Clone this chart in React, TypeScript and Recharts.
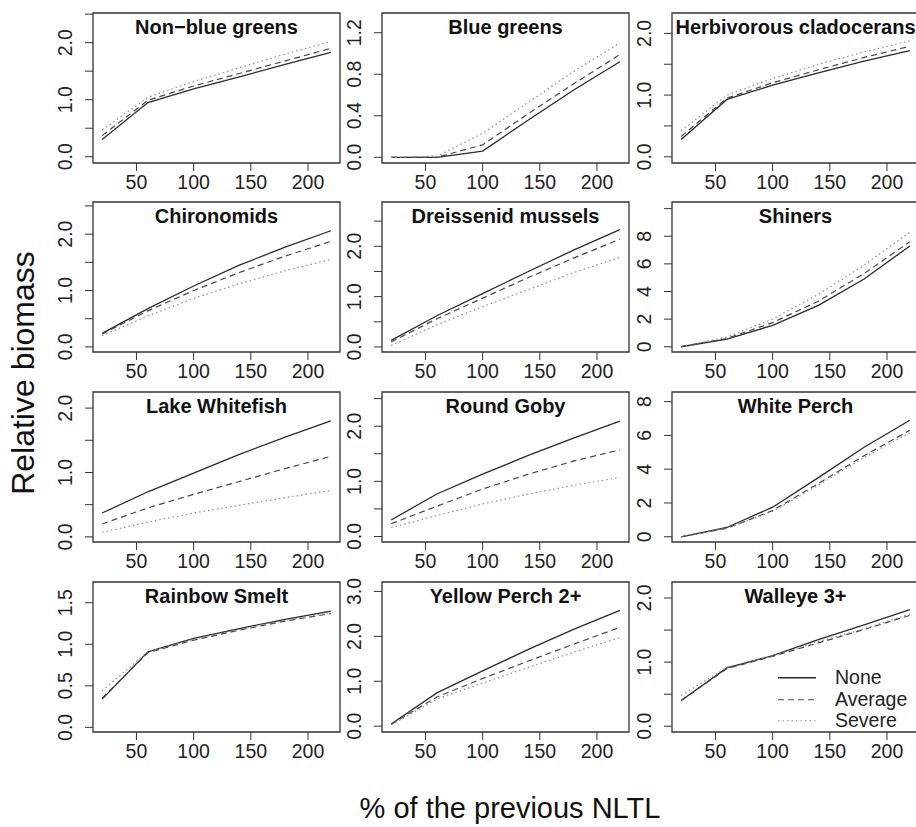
import React from "react";
import { LineChart, Line, XAxis, YAxis, ReferenceArea, Legend } from "recharts";

// nutrient load (% of the previous NLTL)
const xValues = [20, 60, 100, 140, 180, 220];
const xTicks = [50, 100, 150, 200];

const panelTitles = [
  "Non\u2212blue greens", "Blue greens", "Herbivorous cladocerans",
  "Chironomids", "Dreissenid mussels", "Shiners",
  "Lake Whitefish", "Round Goby", "White Perch",
  "Rainbow Smelt", "Yellow Perch 2+", "Walleye 3+",
];

const seriesNames = ["None", "Average", "Severe"];

const noneSeries = [
  [0.30, 0.95, 1.19, 1.40, 1.62, 1.83],
  [0.00, 0.00, 0.06, 0.36, 0.65, 0.92],
  [0.28, 0.93, 1.16, 1.36, 1.55, 1.72],
  [0.24, 0.68, 1.08, 1.45, 1.77, 2.06],
  [0.13, 0.62, 1.06, 1.50, 1.93, 2.33],
  [0.00, 0.55, 1.55, 3.00, 4.90, 7.30],
  [0.37, 0.70, 0.99, 1.28, 1.55, 1.80],
  [0.30, 0.77, 1.13, 1.47, 1.79, 2.09],
  [0.00, 0.55, 1.75, 3.50, 5.30, 6.90],
  [0.34, 0.91, 1.07, 1.19, 1.30, 1.40],
  [0.05, 0.74, 1.23, 1.71, 2.16, 2.58],
  [0.40, 0.91, 1.10, 1.35, 1.58, 1.82],
];

const averageSeries = [
  [0.37, 0.99, 1.24, 1.46, 1.68, 1.90],
  [0.00, 0.00, 0.12, 0.42, 0.71, 0.99],
  [0.33, 0.95, 1.20, 1.41, 1.61, 1.79],
  [0.23, 0.64, 1.00, 1.32, 1.61, 1.87],
  [0.10, 0.56, 0.97, 1.38, 1.77, 2.14],
  [0.02, 0.60, 1.75, 3.30, 5.30, 7.60],
  [0.20, 0.45, 0.66, 0.86, 1.06, 1.25],
  [0.23, 0.55, 0.86, 1.13, 1.37, 1.57],
  [0.00, 0.50, 1.55, 3.15, 4.80, 6.30],
  [0.35, 0.90, 1.05, 1.17, 1.28, 1.37],
  [0.04, 0.65, 1.06, 1.45, 1.83, 2.20],
  [0.40, 0.90, 1.09, 1.30, 1.51, 1.73],
];

const severeSeries = [
  [0.47, 1.04, 1.32, 1.56, 1.80, 2.02],
  [0.00, 0.01, 0.23, 0.53, 0.83, 1.10],
  [0.42, 1.00, 1.27, 1.50, 1.70, 1.88],
  [0.20, 0.55, 0.86, 1.12, 1.35, 1.55],
  [0.03, 0.44, 0.80, 1.14, 1.48, 1.78],
  [0.00, 0.70, 2.00, 3.80, 5.90, 8.30],
  [0.07, 0.23, 0.37, 0.49, 0.61, 0.72],
  [0.16, 0.38, 0.59, 0.77, 0.93, 1.07],
  [0.00, 0.50, 1.50, 3.05, 4.70, 6.15],
  [0.44, 0.91, 1.06, 1.18, 1.29, 1.38],
  [0.03, 0.60, 0.96, 1.31, 1.65, 1.97],
  [0.48, 0.92, 1.10, 1.32, 1.52, 1.75],
];

const yDomains = [
  [-0.11, 2.52], [-0.055, 1.39], [-0.10, 2.33],
  [-0.09, 2.57], [-0.10, 2.88], [-0.38, 10.48],
  [-0.08, 2.25], [-0.10, 2.62], [-0.31, 8.57],
  [-0.056, 1.75], [-0.13, 3.21], [-0.09, 2.25],
];

const yTicks = [
  [0, 0.5, 1, 1.5, 2, 2.5], [0, 0.2, 0.4, 0.6, 0.8, 1.0, 1.2], [0, 0.5, 1, 1.5, 2],
  [0, 0.5, 1, 1.5, 2, 2.5], [0, 0.5, 1, 1.5, 2, 2.5], [0, 2, 4, 6, 8, 10],
  [0, 0.5, 1, 1.5, 2], [0, 0.5, 1, 1.5, 2, 2.5], [0, 2, 4, 6, 8],
  [0, 0.5, 1, 1.5], [0, 0.5, 1, 1.5, 2, 2.5, 3], [0, 0.5, 1, 1.5, 2],
];

// ticks that carry a printed label (R drops the crowded ones)
const yLabelled = [
  [0, 1, 2], [0, 0.4, 0.8, 1.2], [0, 1, 2],
  [0, 1, 2], [0, 1, 2], [0, 2, 4, 6, 8],
  [0, 1, 2], [0, 1, 2], [0, 2, 4, 6, 8],
  [0, 0.5, 1, 1.5], [0, 1, 2, 3], [0, 1, 2],
];
const yDecimals = [1, 1, 1, 1, 1, 0, 1, 1, 0, 1, 1, 1];

const COL_LEFT = [93, 382, 672];
const ROW_TOP = [13, 202, 392, 582];
const BOX_W = 247;
const BOX_H = 150;
const Y_AXIS_W = 45;
const X_AXIS_H = 35;
const PAD = 5;
const FONT = '"Liberation Sans", Arial, Helvetica, sans-serif';
const TICK_SIZE = 19.5;

const lineStyles = [
  { key: "none", stroke: "#2a2a2a", width: 1.3, dash: undefined },
  { key: "average", stroke: "#474747", width: 1.2, dash: "6 4" },
  { key: "severe", stroke: "#8c8c8c", width: 1.2, dash: "1.5 3" },
];

function YTick(props: any) {
  const { x, y, payload, labelled, decimals } = props;
  const v = payload.value;
  if (!labelled.some((l: number) => Math.abs(l - v) < 1e-9)) return <g />;
  const bx = x - 11;
  return (
    <text x={bx} y={y} transform={`rotate(-90 ${bx} ${y})`} textAnchor="middle"
      fontSize={TICK_SIZE} fill="#222" fontFamily={FONT}>
      {Number(v).toFixed(decimals)}
    </text>
  );
}

function LegendBox() {
  return (
    <div style={{ fontFamily: FONT, fontSize: TICK_SIZE, color: "#222" }}>
      {seriesNames.map((name, i) => (
        <div key={name} style={{ display: "flex", alignItems: "center", height: 21.5 }}>
          <svg width={38} height={21.5}>
            <line x1={0} x2={38} y1={10.75} y2={10.75} stroke={lineStyles[i].stroke}
              strokeWidth={lineStyles[i].width} strokeDasharray={lineStyles[i].dash} />
          </svg>
          <span style={{ marginLeft: 19, lineHeight: "21.5px" }}>{name}</span>
        </div>
      ))}
    </div>
  );
}

function Panel({ p }: { p: number }) {
  const col = p % 3;
  const row = Math.floor(p / 3);
  const left = COL_LEFT[col];
  const top = ROW_TOP[row];
  const data = xValues.map((x, i) => ({
    x,
    none: noneSeries[p][i],
    average: averageSeries[p][i],
    severe: severeSeries[p][i],
  }));
  const dom = yDomains[p];
  return (
    <>
      <div style={{ position: "absolute", left: left - Y_AXIS_W, top: top - PAD }}>
        <LineChart width={Y_AXIS_W + BOX_W + PAD} height={PAD + BOX_H + X_AXIS_H} data={data}
          margin={{ top: PAD, right: PAD, bottom: 0, left: 0 }}>
          <XAxis dataKey="x" type="number" domain={[12, 228]} allowDataOverflow ticks={xTicks}
            axisLine={false} tickSize={8} tickMargin={4} height={X_AXIS_H}
            tickLine={{ stroke: "#333" }}
            tick={{ fontSize: TICK_SIZE, fill: "#222", fontFamily: FONT }} />
          <YAxis type="number" domain={dom} allowDataOverflow ticks={yTicks[p]} width={Y_AXIS_W}
            axisLine={false} tickSize={8} tickMargin={2} tickLine={{ stroke: "#333" }}
            tick={(tp: any) => <YTick {...tp} labelled={yLabelled[p]} decimals={yDecimals[p]} />} />
          <ReferenceArea x1={12} x2={228} y1={dom[0]} y2={dom[1]} fill="none" fillOpacity={0}
            stroke="#333" strokeWidth={1.3} ifOverflow="visible" />
          {lineStyles.map((s, i) => (
            <Line key={s.key} dataKey={s.key} name={seriesNames[i]} type="linear" dot={false}
              stroke={s.stroke} strokeWidth={s.width} strokeDasharray={s.dash}
              isAnimationActive={false} />
          ))}
          {p === 11 && (
            <Legend content={() => <LegendBox />} layout="vertical" align="center"
              verticalAlign="middle" wrapperStyle={{ left: 151, top: 90, width: "auto" }} />
          )}
        </LineChart>
      </div>
      <div style={{
        position: "absolute", left: left + BOX_W / 2, top: top + 4, transform: "translateX(-50%)",
        fontFamily: FONT, fontWeight: "bold", fontSize: 20, lineHeight: "20px",
        whiteSpace: "nowrap", color: "#111",
      }}>
        {panelTitles[p]}
      </div>
    </>
  );
}

export default function App() {
  return (
    <div style={{
      position: "absolute", left: 0, top: 0, width: 916, height: 827,
      overflow: "hidden", background: "#fff",
    }}>
      {panelTitles.map((_, p) => <Panel key={p} p={p} />)}
      <svg width={916} height={827} style={{ position: "absolute", left: 0, top: 0, pointerEvents: "none" }}>
        <text x={34} y={373} transform="rotate(-90 34 373)" textAnchor="middle"
          fontSize={32} fill="#111" fontFamily={FONT}>Relative biomass</text>
        <text x={510} y={818} textAnchor="middle" fontSize={29} fill="#111" fontFamily={FONT}>
          % of the previous NLTL
        </text>
      </svg>
    </div>
  );
}
